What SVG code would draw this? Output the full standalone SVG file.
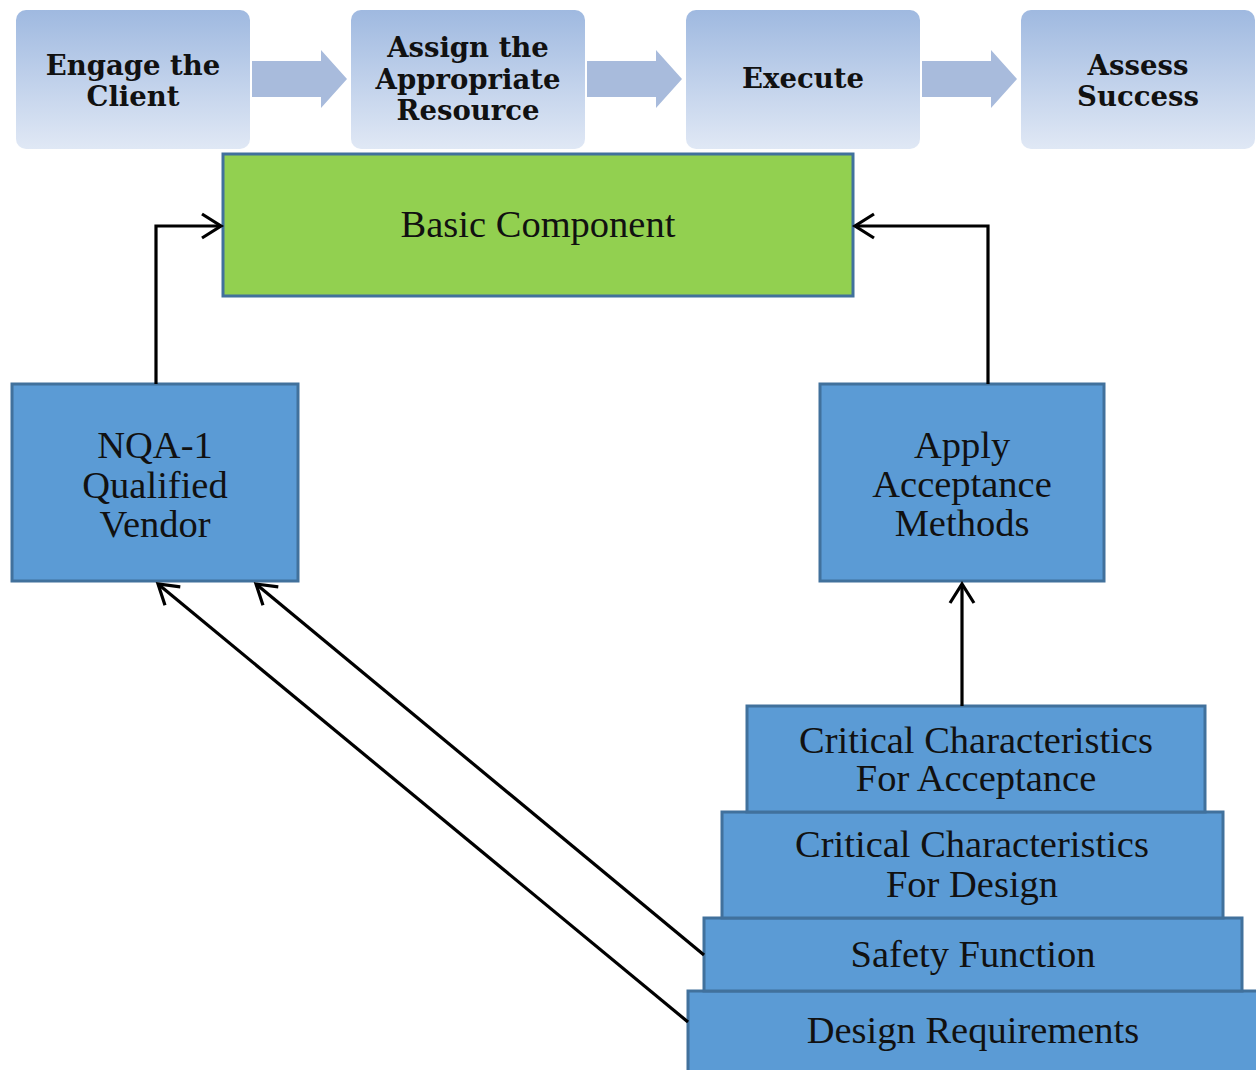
<svg xmlns="http://www.w3.org/2000/svg" width="1256" height="1070" viewBox="0 0 1256 1070">
<style>
.step{fill:url(#g);}
.stxt{font-family:"DejaVu Serif",serif;font-weight:bold;font-size:27.5px;fill:#111;text-anchor:middle;}
.barrow{fill:#a8bbdc;}
.box{fill:#5b9bd5;stroke:#41719c;stroke-width:3;}
.green{fill:#92d050;stroke:#41719c;stroke-width:3;}
.t{font-family:"Liberation Serif",serif;font-size:38.5px;fill:#111;text-anchor:middle;}
.conn{fill:none;stroke:#000;stroke-width:3.2;}
</style>
<defs>
<linearGradient id="g" x1="0" y1="0" x2="0" y2="1">
<stop offset="0" stop-color="#9fb9e0"/>
<stop offset="1" stop-color="#e0e8f5"/>
</linearGradient>
<marker id="ah" markerUnits="userSpaceOnUse" markerWidth="34" markerHeight="34" viewBox="-22 -17 34 34" refX="0" refY="0" orient="auto">
<path d="M-19,-12 L0,0 L-19,12" fill="none" stroke="#000" stroke-width="3.2"/>
</marker>
</defs>
<rect width="1256" height="1070" fill="#fff"/>
<g id="engage"><rect class="step" x="16" y="10" width="234" height="139" rx="10"/><text class="stxt" x="133" y="75">Engage the</text><text class="stxt" x="133" y="106">Client</text></g>
<g id="assign"><rect class="step" x="351" y="10" width="234" height="139" rx="10"/><text class="stxt" x="468" y="57">Assign the</text><text class="stxt" x="468" y="89">Appropriate</text><text class="stxt" x="468" y="120">Resource</text></g>
<g id="execute"><rect class="step" x="686" y="10" width="234" height="139" rx="10"/><text class="stxt" x="803" y="88">Execute</text></g>
<g id="assess"><rect class="step" x="1021" y="10" width="234" height="139" rx="10"/><text class="stxt" x="1138" y="75">Assess</text><text class="stxt" x="1138" y="106">Success</text></g>
<g id="block-arrows">
<path class="barrow" d="M252,61 H321 V50 L347,79 L321,108 V97 H252 Z"/>
<path class="barrow" d="M587,61 H656 V50 L682,79 L656,108 V97 H587 Z"/>
<path class="barrow" d="M922,61 H991 V50 L1017,79 L991,108 V97 H922 Z"/>
</g>
<g id="basic"><rect class="green" x="223" y="154" width="630" height="142"/><text class="t" x="538" y="237">Basic Component</text></g>
<g id="nqa"><rect class="box" x="12" y="384" width="286" height="197"/><text class="t" x="155" y="458">NQA-1</text><text class="t" x="155" y="498">Qualified</text><text class="t" x="155" y="537">Vendor</text></g>
<g id="apply"><rect class="box" x="820" y="384" width="284" height="197"/><text class="t" x="962" y="458">Apply</text><text class="t" x="962" y="497">Acceptance</text><text class="t" x="962" y="536">Methods</text></g>
<g id="design-req"><rect class="box" x="688" y="991" width="580" height="90"/><text class="t" x="973" y="1043">Design Requirements</text></g>
<g id="safety"><rect class="box" x="704" y="918" width="538" height="73"/><text class="t" x="973" y="967">Safety Function</text></g>
<g id="cc-design"><rect class="box" x="722" y="812" width="501" height="106"/><text class="t" x="972" y="857">Critical Characteristics</text><text class="t" x="972" y="897">For Design</text></g>
<g id="cc-accept"><rect class="box" x="747" y="706" width="458" height="106"/><text class="t" x="976" y="753">Critical Characteristics</text><text class="t" x="976" y="791">For Acceptance</text></g>
<g id="connectors">
<polyline class="conn" points="156,384 156,226 221,226" marker-end="url(#ah)"/>
<polyline class="conn" points="988,384 988,226 855,226" marker-end="url(#ah)"/>
<line class="conn" x1="962" y1="706" x2="962" y2="584" marker-end="url(#ah)"/>
<line class="conn" x1="704" y1="955" x2="256" y2="584" marker-end="url(#ah)"/>
<line class="conn" x1="688" y1="1022" x2="158" y2="584" marker-end="url(#ah)"/>
</g>
</svg>
